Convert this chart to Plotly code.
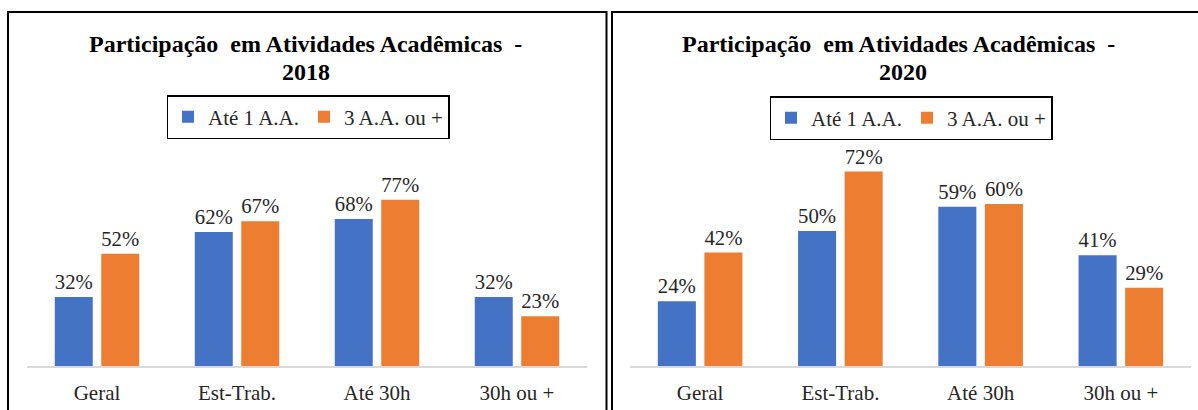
import plotly.graph_objects as go

# Participation data (percent of students)
categorias = ["Geral", "Est-Trab.", "Até 30h", "30h ou +"]
ate1_2018 = [32, 62, 68, 32]
mais3_2018 = [52, 67, 77, 23]
ate1_2020 = [24, 50, 59, 41]
mais3_2020 = [42, 72, 60, 29]
serie_nomes = ["Até 1 A.A.", "3 A.A. ou +"]
titulos = [
    "Participação\u00a0 em Atividades Acadêmicas\u00a0 -",
    "Participação\u00a0 em Atividades Acadêmicas\u00a0 -",
]
anos = ["2018", "2020"]

AZUL = "#4472C4"
LARANJA = "#ED7D31"
SERIF = "Liberation Serif"
TXT = "#262626"
W, H = 1198, 410


def px_x(p):
    return p / W


def px_y(p):
    return 1 - p / H


fig = go.Figure()

paineis = [
    ("x", "y", "legend", (ate1_2018, mais3_2018)),
    ("x2", "y2", "legend2", (ate1_2020, mais3_2020)),
]
for xa, ya, leg, (s1, s2) in paineis:
    for nome, vals, cor in zip(serie_nomes, (s1, s2), (AZUL, LARANJA)):
        fig.add_trace(go.Bar(
            x=categorias, y=vals, name=nome, xaxis=xa, yaxis=ya, legend=leg,
            marker=dict(color=cor, line=dict(width=0)),
            text=[f"{v}%" for v in vals], textposition="outside",
            textfont=dict(family=SERIF, size=21, color=TXT),
            cliponaxis=False, hoverinfo="skip",
        ))

eixo_x = dict(
    showgrid=False, zeroline=False, showline=True, linecolor="#D9D9D9", linewidth=1.5,
    ticks="", ticklabelstandoff=7,
    tickfont=dict(family=SERIF, size=21, color=TXT), fixedrange=True,
)
eixo_y = dict(visible=False, showgrid=False, zeroline=False, fixedrange=True)

y_dom = [px_y(366), px_y(150)]

leg_comum = dict(
    orientation="h", xanchor="center", yanchor="top",
    bordercolor="black", borderwidth=1.5, bgcolor="white",
    font=dict(family=SERIF, size=21, color=TXT),
)

fig.update_layout(
    width=W, height=H,
    margin=dict(l=0, r=0, t=0, b=0),
    paper_bgcolor="white", plot_bgcolor="white",
    barmode="group", bargap=0.336, bargroupgap=0.183,
    xaxis=dict(eixo_x, domain=[px_x(27), px_x(587)], anchor="y"),
    xaxis2=dict(eixo_x, domain=[px_x(630), px_x(1191)], anchor="y2"),
    yaxis=dict(eixo_y, domain=y_dom, range=[0, 100], anchor="x"),
    yaxis2=dict(eixo_y, domain=y_dom, range=[0, 80], anchor="x2"),
    legend=dict(leg_comum, x=px_x(308), y=px_y(95)),
    legend2=dict(leg_comum, x=px_x(911), y=px_y(96)),
    showlegend=True,
)

# Chart titles, two lines each
for cx, cx2, titulo, ano in [(305, 306, titulos[0], anos[0]), (898, 903, titulos[1], anos[1])]:
    fig.add_annotation(
        text=titulo, xref="paper", yref="paper", x=px_x(cx), y=px_y(44),
        xanchor="center", yanchor="middle", showarrow=False,
        font=dict(family=SERIF, size=24, color="black", weight="bold"),
    )
    fig.add_annotation(
        text=ano, xref="paper", yref="paper", x=px_x(cx2), y=px_y(72),
        xanchor="center", yanchor="middle", showarrow=False,
        font=dict(family=SERIF, size=24, color="black", weight="bold"),
    )

# Chart area frames
for x0, x1 in [(8, 606.5), (612, 1215)]:
    fig.add_shape(
        type="rect", xref="paper", yref="paper",
        x0=px_x(x0), x1=px_x(x1), y0=px_y(430), y1=px_y(12),
        line=dict(color="black", width=2), fillcolor="rgba(0,0,0,0)", layer="above",
    )

fig.write_html("out.html")
